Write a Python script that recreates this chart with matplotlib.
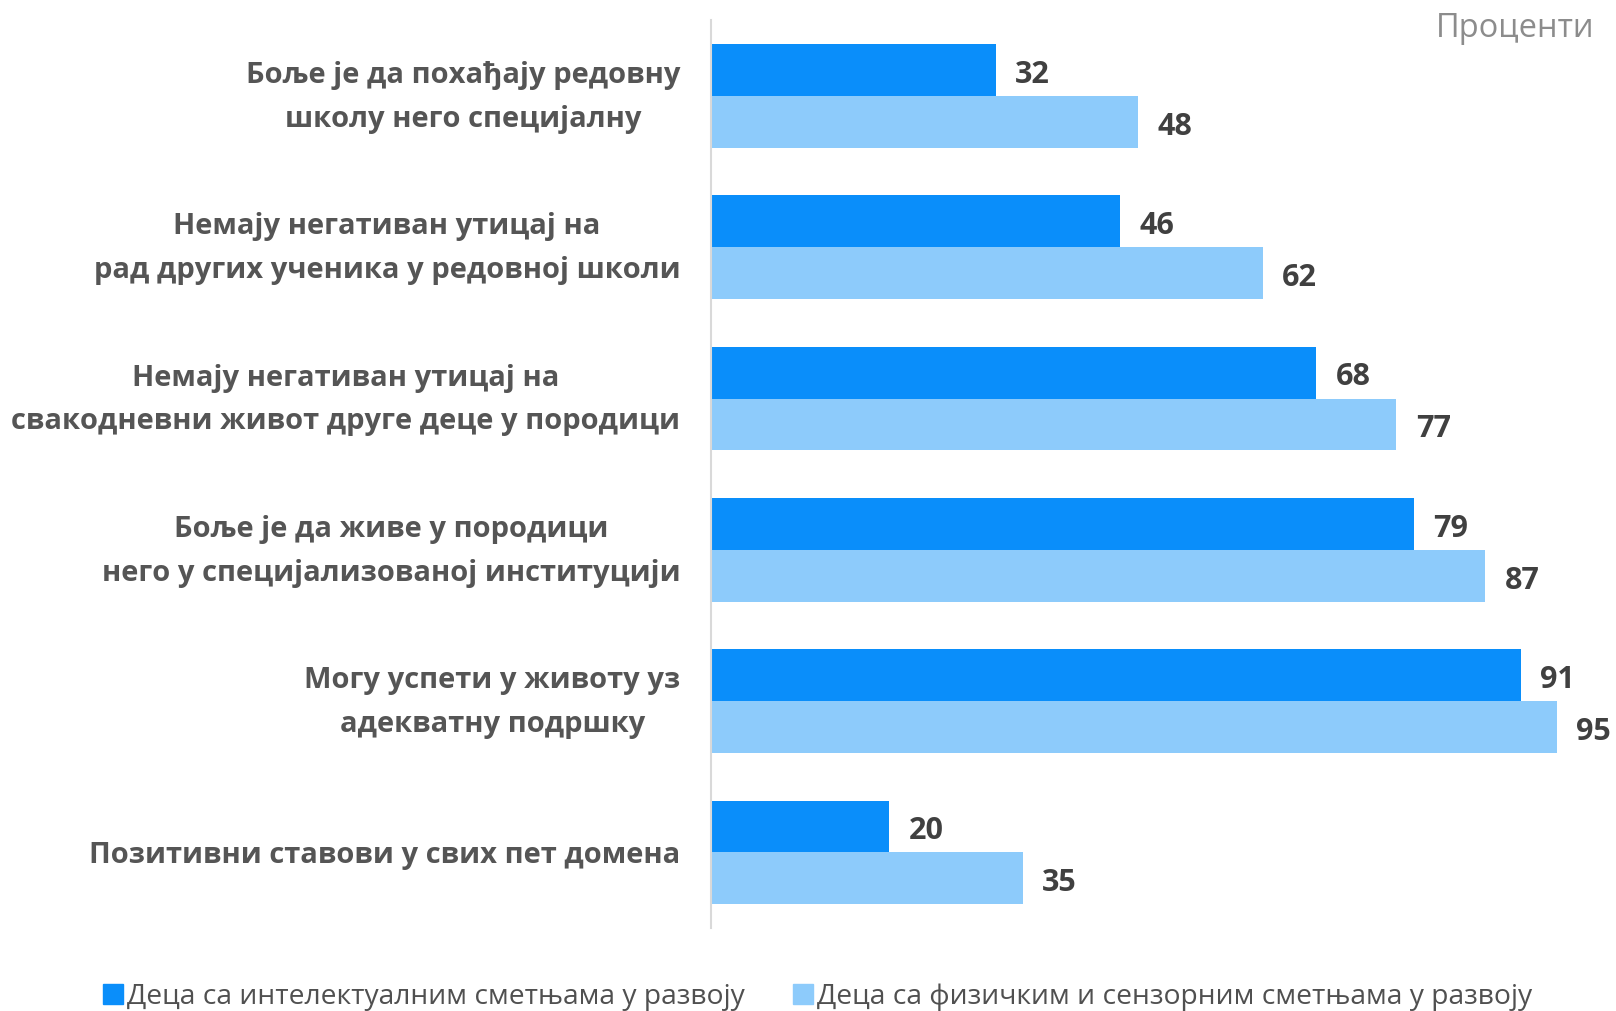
import matplotlib
matplotlib.use("Agg")
import matplotlib.pyplot as plt
from matplotlib.patches import Patch
from matplotlib.transforms import ScaledTranslation
import numpy as np

categories = [
    "Боље је да похађају редовну\nшколу него специјалну",
    "Немају негативан утицај на\nрад других ученика у редовној школи",
    "Немају негативан утицај на\nсвакодневни живот друге деце у породици",
    "Боље је да живе у породици\nнего у специјализованој институцији",
    "Могу успети у животу уз\nадекватну подршку",
    "Позитивни ставови у свих пет домена",
]
intellectual = [32, 46, 68, 79, 91, 20]
physical = [48, 62, 77, 87, 95, 35]
series_names = ["Деца са интелектуалним сметњама у развоју",
                "Деца са физичким и сензорним сметњама у развоју"]
unit_label = "Проценти"

c_dark = "#0A8EFA"
c_light = "#8DCBFB"

plt.rcParams['font.family'] = ['Open Sans', 'DejaVu Sans']

fig = plt.figure(figsize=(16.16, 10.11), dpi=100)
ax = fig.add_axes([0.44, 0.082, 0.548, 0.898])

y = np.arange(len(categories))
h = 0.342
ax.barh(y - h / 2, intellectual, height=h, color=c_dark)
ax.barh(y + h / 2, physical, height=h, color=c_light)

for yi, v in zip(y, intellectual):
    ax.annotate(str(v), xy=(v, yi - h / 2), xytext=(14, -3.5), textcoords='offset points',
                va='center', ha='left', fontsize=22, fontweight='bold', color='#404040')
for yi, v in zip(y, physical):
    ax.annotate(str(v), xy=(v, yi + h / 2), xytext=(14, -3.5), textcoords='offset points',
                va='center', ha='left', fontsize=22, fontweight='bold', color='#404040')

ax.set_xlim(0, 99.5)
ax.set_ylim(len(categories) - 0.5, -0.5)
ax.set_yticks(y)
ax.tick_params(axis='y', length=0, pad=22)
ax.set_yticklabels(categories, fontsize=21, fontweight='bold', color='#555555',
                   multialignment='center', linespacing=1.67)
ax.set_xticks([])
for s in ['top', 'right', 'bottom']:
    ax.spines[s].set_visible(False)
ax.spines['left'].set_color('#D9D9D9')
ax.spines['left'].set_linewidth(1.5)

shift = ScaledTranslation(0, 9.5 / 100, fig.dpi_scale_trans)
for lab in ax.get_yticklabels():
    if "\n" in lab.get_text():
        lab.set_transform(lab.get_transform() + shift)

fig.text(0.987, 0.972, unit_label, ha='right', va='center', fontsize=23.5,
         color='#8C8C8C')

handles = [Patch(color=c_dark), Patch(color=c_light)]
leg = fig.legend(handles, series_names, loc='center', bbox_to_anchor=(0.506, 0.014),
                 ncol=2, frameon=False, handlelength=0.7, handleheight=0.7,
                 handletextpad=0.15, columnspacing=1.7,
                 prop={'size': 20.3})
for t in leg.get_texts():
    t.set_color('#505050')

fig.savefig("out.png", dpi=100, facecolor='white')
